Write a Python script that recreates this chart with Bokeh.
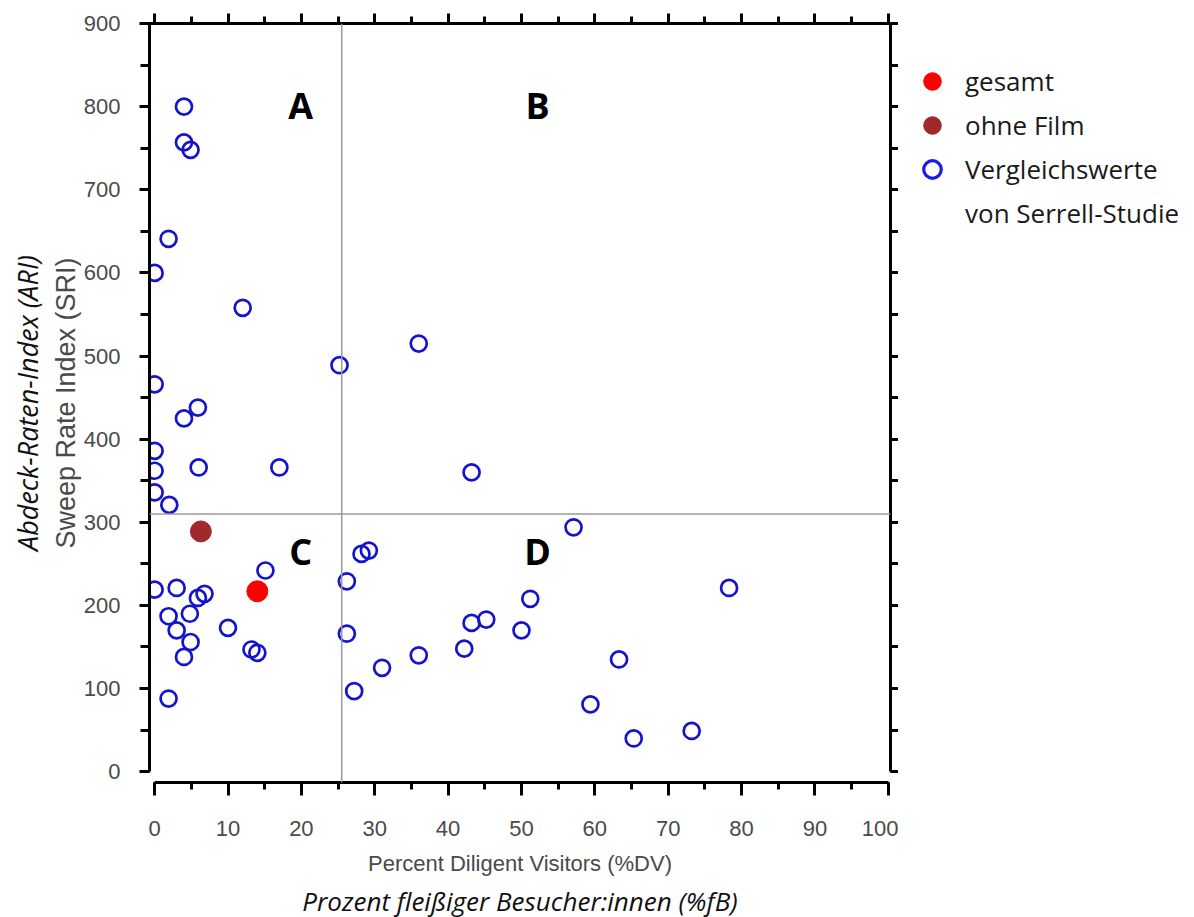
from bokeh.plotting import figure
from bokeh.layouts import row
from bokeh.models import (Range1d, LinearAxis, Span, Legend, LegendItem,
                          SingleIntervalTicker, CustomJSTickFormatter)
from bokeh.core.properties import value
from bokeh.embed import file_html
from bokeh.resources import INLINE

# ---------------- data ----------------
serrell_x = [4, 4, 4.9, 1.9, 0, 12, 25.2, 36, 0, 5.9, 4, 0, 0, 6, 17, 43.2, 0, 2,
             57.1, 28.2, 29.2, 26.2, 15.1, 0, 3, 5.9, 6.8, 4.8, 1.9, 3, 4.9, 4,
             10, 13.2, 14, 1.9, 26.2, 27.2, 31, 36, 42.2, 43.2, 45.2, 50, 51.2,
             63.3, 59.4, 65.3, 73.2, 78.3]
serrell_y = [800, 757, 748, 641, 600, 558, 489, 515, 466, 438, 425, 386, 362, 366,
             366, 360, 336, 321, 294, 262, 266, 229, 242, 219, 221, 209, 214, 190,
             187, 170, 156, 138, 173, 147, 143, 88, 166, 97, 125, 140, 148, 179,
             183, 170, 208, 135, 81, 40, 49, 221]
gesamt_x = [14]
gesamt_y = [217]
ohne_film_x = [6.3]
ohne_film_y = [289]

split_x = 25.5
split_y = 310
quadrant_letters = ["A", "B", "C", "D"]
quadrant_x = [19.9, 52.2, 19.9, 52.2]
quadrant_y = [801, 801, 265, 265]

legend_labels = ["gesamt", "ohne Film", "Vergleichswerte", "von Serrell-Studie"]

TICK_FONT = "Liberation Sans"
GRAY = "#4a4a4a"
BLUE = "#1414cc"
RED = "#ff0000"
BROWN = "#a0292b"

p = figure(frame_width=741, frame_height=759, output_backend="svg",
           toolbar_location=None,
           x_range=Range1d(-0.7, 100.3), y_range=Range1d(-13, 900),
           x_axis_location=None, y_axis_location=None,
           min_border_left=149, min_border_top=23, min_border_right=0,
           min_border_bottom=0)
p.xgrid.visible = False
p.ygrid.visible = False
p.outline_line_color = None

blank = CustomJSTickFormatter(code="return ''")


def clear_axis(ax):
    ax.axis_line_color = None
    ax.major_tick_line_color = None
    ax.minor_tick_line_color = None
    ax.major_tick_out = 0
    ax.minor_tick_out = 0
    ax.major_tick_in = 0
    ax.minor_tick_in = 0
    ax.formatter = blank
    ax.major_label_text_font_size = "1px"
    ax.major_label_standoff = 0


def solid_axis(ax, tick_major, tick_minor):
    ax.axis_line_width = 3
    ax.major_tick_line_width = 3
    ax.minor_tick_line_width = 3
    ax.major_tick_out = tick_major
    ax.minor_tick_out = tick_minor
    ax.major_tick_in = 0
    ax.minor_tick_in = 0


# left axis
ly = LinearAxis(ticker=SingleIntervalTicker(interval=100, num_minor_ticks=2),
                bounds=(0, 900))
solid_axis(ly, 10, 9)
ly.major_label_text_font = TICK_FONT
ly.major_label_text_font_size = "22px"
ly.major_label_text_color = GRAY
ly.major_label_standoff = 19
ly.axis_label = "Sweep Rate Index (SRI)"
ly.axis_label_text_font = TICK_FONT
ly.axis_label_text_font_size = "27px"
ly.axis_label_text_font_style = "normal"
ly.axis_label_text_color = GRAY
ly.axis_label_standoff = 0
p.add_layout(ly, "left")

ly2 = LinearAxis(ticker=SingleIntervalTicker(interval=100), bounds=(0, 900))
clear_axis(ly2)
ly2.axis_label = "Abdeck-Raten-Index (ARI)"
ly2.axis_label_text_font = "Open Sans"
ly2.axis_label_text_font_size = "27px"
ly2.axis_label_text_font_style = "italic"
ly2.axis_label_text_color = "#111111"
ly2.axis_label_standoff = 2
p.add_layout(ly2, "left")

# bottom axis
bx = LinearAxis(ticker=SingleIntervalTicker(interval=10, num_minor_ticks=2),
                bounds=(0, 100))
solid_axis(bx, 13, 7)
bx.major_label_text_font = TICK_FONT
bx.major_label_text_font_size = "22px"
bx.major_label_text_color = GRAY
bx.major_label_standoff = 25
bx.axis_label = "Percent Diligent Visitors (%DV)"
bx.axis_label_text_font = TICK_FONT
bx.axis_label_text_font_size = "22px"
bx.axis_label_text_font_style = "normal"
bx.axis_label_text_color = GRAY
bx.axis_label_standoff = 12
p.add_layout(bx, "below")

bx2 = LinearAxis(ticker=SingleIntervalTicker(interval=10), bounds=(0, 100))
clear_axis(bx2)
bx2.axis_label = "Prozent fleißiger Besucher:innen (%fB)"
bx2.axis_label_text_font = "Open Sans"
bx2.axis_label_text_font_size = "26px"
bx2.axis_label_text_font_style = "italic"
bx2.axis_label_text_color = "#111111"
bx2.axis_label_standoff = 4
p.add_layout(bx2, "below")

# top axis
tx = LinearAxis(ticker=SingleIntervalTicker(interval=10, num_minor_ticks=2))
solid_axis(tx, 10, 7)
tx.formatter = blank
tx.major_label_text_font_size = "1px"
tx.major_label_standoff = 0
p.add_layout(tx, "above")

# right axis
ry = LinearAxis(ticker=SingleIntervalTicker(interval=100, num_minor_ticks=2),
                bounds=(0, 900))
solid_axis(ry, 8, 8)
ry.formatter = blank
ry.major_label_text_font_size = "1px"
ry.major_label_standoff = 0
p.add_layout(ry, "right")

# quadrant separators
p.add_layout(Span(location=split_x, dimension="height", line_color="#9a9a9a",
                  line_width=1.5))
p.add_layout(Span(location=split_y, dimension="width", line_color="#9a9a9a",
                  line_width=1.5))

# quadrant letters
p.text(x=quadrant_x, y=quadrant_y, text=quadrant_letters,
       text_font=value("Open Sans"), text_font_style="bold",
       text_font_size="36px", text_color="black",
       text_align="center", text_baseline="middle")

# points
p.scatter(serrell_x, serrell_y, size=16, fill_color=None,
          line_color=BLUE, line_width=2.7)
p.scatter(gesamt_x, gesamt_y, size=21, fill_color=RED, line_color=RED)
p.scatter(ohne_film_x, ohne_film_y, size=21, fill_color=BROWN,
          line_color=BROWN)

# ---------------- legend panel (its ranges keep the proxy marks hidden) ----
lp = figure(frame_width=280, frame_height=759, output_backend="svg",
            toolbar_location=None,
            x_range=Range1d(-100, -99), y_range=Range1d(-100, -99),
            x_axis_location=None, y_axis_location=None,
            min_border_left=0, min_border_right=0, min_border_top=23,
            min_border_bottom=0)
lp.xgrid.visible = False
lp.ygrid.visible = False
lp.outline_line_color = None

g_gesamt = lp.scatter(gesamt_x, gesamt_y, size=21, fill_color=RED,
                      line_color=RED)
g_ohne = lp.scatter(ohne_film_x, ohne_film_y, size=21, fill_color=BROWN,
                    line_color=BROWN)
g_serrell = lp.scatter(serrell_x, serrell_y, size=15, fill_color=None,
                       line_color="#1a1aee", line_width=3.2)
g_blank = lp.scatter(gesamt_x, gesamt_y, size=1, fill_alpha=0, line_alpha=0)

legend = Legend(items=[
    LegendItem(label=legend_labels[0], renderers=[g_gesamt]),
    LegendItem(label=legend_labels[1], renderers=[g_ohne]),
    LegendItem(label=legend_labels[2], renderers=[g_serrell]),
    LegendItem(label=legend_labels[3], renderers=[g_blank]),
], location=(5, 547))
legend.label_text_font = "Open Sans"
legend.label_text_font_size = "26px"
legend.label_text_color = "#1a1a1a"
legend.glyph_width = 58
legend.glyph_height = 44
legend.spacing = 0
legend.padding = 3
legend.margin = 0
legend.label_standoff = 4
legend.border_line_color = None
legend.background_fill_alpha = 0
lp.add_layout(legend)

layout = row(p, lp)
open("out.html", "w").write(file_html(layout, INLINE))
